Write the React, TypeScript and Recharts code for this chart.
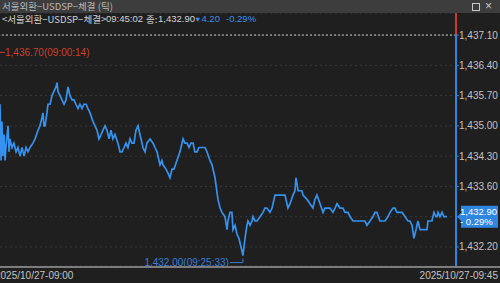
import { LineChart, Line, XAxis, YAxis, CartesianGrid, ReferenceLine, ReferenceDot } from "recharts"

// tick time, seconds after 09:00:00
const secs = [
  141, 147, 152, 158, 164, 170, 175, 187, 193, 198,
  210, 221, 233, 244, 256, 267, 279, 290, 301, 313,
  330, 342, 359, 370, 382, 387, 393, 399, 410, 416,
  428, 439, 450, 462, 468, 473, 485, 496, 508, 519,
  531, 542, 554, 565, 576, 588, 599, 611, 622, 634,
  645, 657, 674, 685, 697, 708, 720, 731, 743, 754,
  766, 777, 788, 800, 817, 829, 840, 852, 863, 874,
  886, 897, 909, 920, 932, 943, 955, 960, 972, 983,
  1001, 1018, 1029, 1041, 1052, 1058, 1069, 1075, 1092, 1104,
  1115, 1127, 1138, 1155, 1172, 1184, 1190, 1201, 1213, 1224,
  1235, 1247, 1258, 1270, 1281, 1298, 1316, 1327, 1344, 1356,
  1373, 1390, 1402, 1413, 1430, 1442, 1447, 1459, 1470, 1476,
  1488, 1499, 1510, 1522, 1528, 1533, 1545, 1556, 1562, 1574,
  1585, 1591, 1602, 1614, 1631, 1648, 1659, 1671, 1688, 1700,
  1717, 1734, 1745, 1757, 1774, 1791, 1803, 1820, 1831, 1837,
  1849, 1860, 1871, 1877, 1900, 1917, 1934, 1946, 1957, 1975,
  1992, 2003, 2015, 2032, 2049, 2061, 2072, 2089, 2106, 2118,
  2135, 2147, 2164, 2175, 2187, 2204, 2221, 2232, 2244, 2261,
  2278, 2290, 2301, 2318, 2335, 2347, 2364, 2376, 2393, 2404,
  2416, 2433, 2445, 2462, 2479, 2490, 2502, 2513, 2525, 2530,
  2536, 2548, 2559, 2576, 2588, 2593, 2605, 2616, 2628, 2639,
  2645, 2651, 2662, 2674, 2685, 2702,
]

const prices = [
  1435.5, 1434.2, 1435.1, 1434.3, 1434.8, 1434.2, 1434.5, 1435.0, 1434.4, 1434.7,
  1434.5, 1434.6, 1434.4, 1434.5, 1434.3, 1434.5, 1434.3, 1434.5, 1434.4, 1434.5,
  1434.6, 1434.7, 1434.9, 1435.0, 1435.2, 1435.3, 1435.0, 1435.0, 1435.3, 1435.5,
  1435.5, 1435.7, 1435.8, 1435.9, 1436.0, 1435.8, 1435.7, 1435.6, 1435.5, 1435.6,
  1435.9, 1435.7, 1435.6, 1435.6, 1435.5, 1435.4, 1435.5, 1435.4, 1435.5, 1435.5,
  1435.4, 1435.3, 1435.1, 1435.0, 1434.9, 1434.7, 1434.8, 1434.9, 1435.0, 1434.9,
  1434.7, 1434.9, 1434.7, 1434.8, 1434.6, 1434.4, 1434.4, 1434.5, 1434.6, 1434.5,
  1434.7, 1434.6, 1434.6, 1434.9, 1435.0, 1434.8, 1434.6, 1434.5, 1434.4, 1434.6,
  1434.7, 1434.6, 1434.5, 1434.4, 1434.2, 1434.1, 1434.2, 1434.1, 1434.0, 1433.9,
  1433.8, 1434.0, 1434.0, 1434.2, 1434.4, 1434.6, 1434.7, 1434.6, 1434.6, 1434.5,
  1434.6, 1434.6, 1434.4, 1434.4, 1434.5, 1434.5, 1434.5, 1434.4, 1434.2, 1434.1,
  1433.8, 1433.3, 1433.1, 1433.0, 1432.9, 1432.6, 1432.8, 1433.0, 1433.0, 1432.6,
  1432.7, 1432.5, 1432.4, 1432.2, 1432.1, 1432.0, 1432.4, 1432.7, 1432.8, 1432.7,
  1432.8, 1432.9, 1432.8, 1432.8, 1432.9, 1433.0, 1433.1, 1433.1, 1433.0, 1433.1,
  1433.4, 1433.4, 1433.4, 1433.4, 1433.4, 1433.1, 1433.2, 1433.4, 1433.5, 1433.8,
  1433.5, 1433.5, 1433.5, 1433.4, 1433.3, 1433.2, 1433.1, 1433.3, 1433.4, 1433.2,
  1433.0, 1433.1, 1433.1, 1433.1, 1433.0, 1433.1, 1433.2, 1433.1, 1433.1, 1433.0,
  1433.0, 1432.9, 1432.8, 1432.8, 1432.8, 1432.8, 1432.8, 1432.8, 1432.7, 1432.8,
  1432.9, 1433.0, 1433.0, 1432.8, 1432.8, 1432.8, 1432.9, 1433.0, 1433.1, 1433.1,
  1433.0, 1433.0, 1433.0, 1432.9, 1432.8, 1432.8, 1432.7, 1432.4, 1432.6, 1432.7,
  1432.8, 1432.6, 1432.6, 1432.6, 1432.6, 1432.8, 1432.8, 1432.8, 1433.0, 1432.9,
  1432.9, 1433.0, 1432.9, 1433.0, 1432.9, 1432.9,
]

const yTicks = [1432.2, 1432.9, 1433.6, 1434.3, 1435.0, 1435.7, 1436.4, 1437.1]
const xDomain = [141, 2754]
const yDomain = [1431.76, 1437.61]
const xLabels = ["2025/10/27-09:00", "2025/10/27-09:45"]

const title = "서울외환−USDSP−체결 (틱)"
const symbolName = "<서울외환−USDSP−체결>"
const lastTime = "09:45:02"
const prevClose = 1437.1
const lastPrice = 1432.9
const change = 4.2
const changePct = -0.29
const highPrice = 1436.7
const highTime = "09:00:14"
const lowPrice = 1432.0
const lowTime = "09:25:33"
const lowSecs = 1533

const data = secs.map((t, i) => ({ t, price: prices[i] }))

const fmt = (v: number) =>
  v.toLocaleString("en-US", { minimumFractionDigits: 2, maximumFractionDigits: 2 })

const BLUE = "#3692ef"
const NUM_FONT = "'Liberation Sans', Arial, sans-serif"
const KR_FONT = "'Noto Sans CJK KR', 'Liberation Sans', sans-serif"

const YTick = (props: any) => {
  const { x, y, payload } = props
  if (payload.value === lastPrice) return <g />
  return (
    <text x={x} y={y} dy={3.5} fill="#c4c4c4" fontSize={10} fontFamily={NUM_FONT}>
      {fmt(payload.value)}
    </text>
  )
}

const XTick = (props: any) => {
  const { x, y, payload } = props
  const first = payload.value === xDomain[0]
  return (
    <text
      x={first ? x - 5 : x + 42}
      y={y + 13}
      textAnchor={first ? "start" : "end"}
      fill="#c4c4c4"
      fontSize={10}
      fontFamily={NUM_FONT}
    >
      {xLabels[first ? 0 : 1]}
    </text>
  )
}

const Badge = (props: any) => {
  const { cx, cy } = props
  const x = cx + 1
  return (
    <g>
      <polygon
        points={`${x},${cy} ${x + 4},${cy - 4} ${x + 4},${cy - 11} ${x + 41},${cy - 11} ${x + 41},${cy + 11} ${x + 4},${cy + 11} ${x + 4},${cy + 4}`}
        fill="#2f86e0"
      />
      <text x={x + 3} y={cy - 1.5} fill="#ffffff" fontSize={9.5} fontFamily={NUM_FONT}>
        {fmt(lastPrice)}
      </text>
      <text x={x + 3} y={cy + 8.5} fill="#ffffff" fontSize={9.5} fontFamily={NUM_FONT}>
        {"- " + Math.abs(changePct).toFixed(2) + "%"}
      </text>
    </g>
  )
}

const HighMark = (props: any) => {
  const { cx, cy } = props
  return (
    <g>
      <line x1={cx} x2={cx + 5} y1={cy} y2={cy} stroke="#c9412f" strokeWidth={1} />
      <text x={cx + 5} y={cy + 3.5} fill="#c9412f" fontSize={10} fontFamily={NUM_FONT}>
        {fmt(highPrice) + "(" + highTime + ")"}
      </text>
    </g>
  )
}

const LowMark = (props: any) => {
  const { cx, cy } = props
  return (
    <g>
      <polyline
        points={`${cx - 13},${cy + 7} ${cx},${cy + 7} ${cx},${cy + 3}`}
        fill="none"
        stroke="#3a7fd0"
        strokeWidth={1}
      />
      <text x={cx - 14} y={cy + 10} textAnchor="end" fill="#3a7fd0" fontSize={10} fontFamily={NUM_FONT}>
        {fmt(lowPrice) + "(" + lowTime + ")"}
      </text>
    </g>
  )
}

const headText = {
  position: "absolute" as const,
  top: 14,
  height: 10,
  fontSize: 9.5,
  lineHeight: "10px",
  whiteSpace: "nowrap" as const,
  color: "#d4d4d4",
}

export default function App() {
  return (
    <div
      style={{
        position: "fixed",
        left: 0,
        top: 0,
        width: 500,
        height: 283,
        background: "#1f1f1f",
        overflow: "hidden",
      }}
    >
      <LineChart width={500} height={283} data={data} margin={{ top: 13, right: 0, bottom: 0, left: 0 }}>
        <CartesianGrid vertical={false} stroke="#3a3a3a" strokeDasharray="2 3" />
        <XAxis
          type="number"
          dataKey="t"
          domain={xDomain}
          ticks={xDomain}
          interval={0}
          allowDataOverflow
          height={17}
          axisLine={false}
          tickLine={false}
          tickSize={0}
          tickMargin={0}
          tick={XTick}
        />
        <YAxis
          orientation="right"
          width={44}
          domain={yDomain}
          ticks={yTicks}
          interval={0}
          allowDataOverflow
          axisLine={false}
          tickLine={{ stroke: "#2f86e0" }}
          tickSize={3}
          tickMargin={0}
          tick={YTick}
        />
        <ReferenceLine y={prevClose} stroke="#c8c8c8" strokeDasharray="2 2" />
        <Line
          type="linear"
          dataKey="price"
          stroke={BLUE}
          strokeWidth={1.7}
          dot={false}
          isAnimationActive={false}
        />
        <ReferenceLine
          segment={[{ x: xDomain[1], y: yDomain[0] }, { x: xDomain[1], y: prevClose }]}
          stroke="#2f86e0"
          strokeWidth={2}
          ifOverflow="visible"
        />
        <ReferenceLine
          segment={[{ x: xDomain[1], y: prevClose }, { x: xDomain[1], y: yDomain[1] }]}
          stroke="#d0392c"
          strokeWidth={2}
          ifOverflow="visible"
        />
        <ReferenceDot x={xDomain[0]} y={highPrice} ifOverflow="visible" shape={HighMark} />
        <ReferenceDot x={lowSecs} y={lowPrice} ifOverflow="visible" shape={LowMark} />
        <ReferenceDot x={xDomain[1]} y={lastPrice} ifOverflow="visible" shape={Badge} />
      </LineChart>

      <div style={{ position: "absolute", left: 0, top: 266, width: 500, height: 2, background: "#7c7c7c" }} />

      <div
        style={{
          position: "absolute",
          left: 0,
          top: 0,
          width: 500,
          height: 13,
          background: "#3d3d3d",
          overflow: "hidden",
        }}
      >
        <div
          style={{
            position: "absolute",
            left: 2,
            top: 1,
            height: 11,
            fontSize: 9.5,
            lineHeight: "11px",
            color: "#b8b8b8",
            fontFamily: KR_FONT,
            whiteSpace: "nowrap",
          }}
        >
          {title}
        </div>
        <div style={{ position: "absolute", left: 472, top: 3, width: 6, height: 6, border: "1px solid #c8c8c8" }} />
        <div
          style={{
            position: "absolute",
            left: 485,
            top: 0,
            height: 13,
            fontSize: 12,
            lineHeight: "13px",
            color: "#c8c8c8",
            fontFamily: NUM_FONT,
          }}
        >
          ×
        </div>
      </div>

      <div style={{ ...headText, left: 2, fontFamily: KR_FONT }}>{symbolName}</div>
      <div style={{ ...headText, left: 106, fontFamily: NUM_FONT }}>{lastTime}</div>
      <div style={{ ...headText, left: 146, fontFamily: KR_FONT }}>종:</div>
      <div style={{ ...headText, left: 158, fontFamily: NUM_FONT }}>{fmt(lastPrice)}</div>
      <div style={{ ...headText, left: 194, fontFamily: NUM_FONT, color: "#3d8fe8" }}>
        <span style={{ fontSize: 7.5 }}>▼</span>
        {change.toFixed(2)}
      </div>
      <div style={{ ...headText, left: 226, fontFamily: NUM_FONT, color: "#3d8fe8" }}>
        {changePct.toFixed(2)}%
      </div>
    </div>
  )
}
